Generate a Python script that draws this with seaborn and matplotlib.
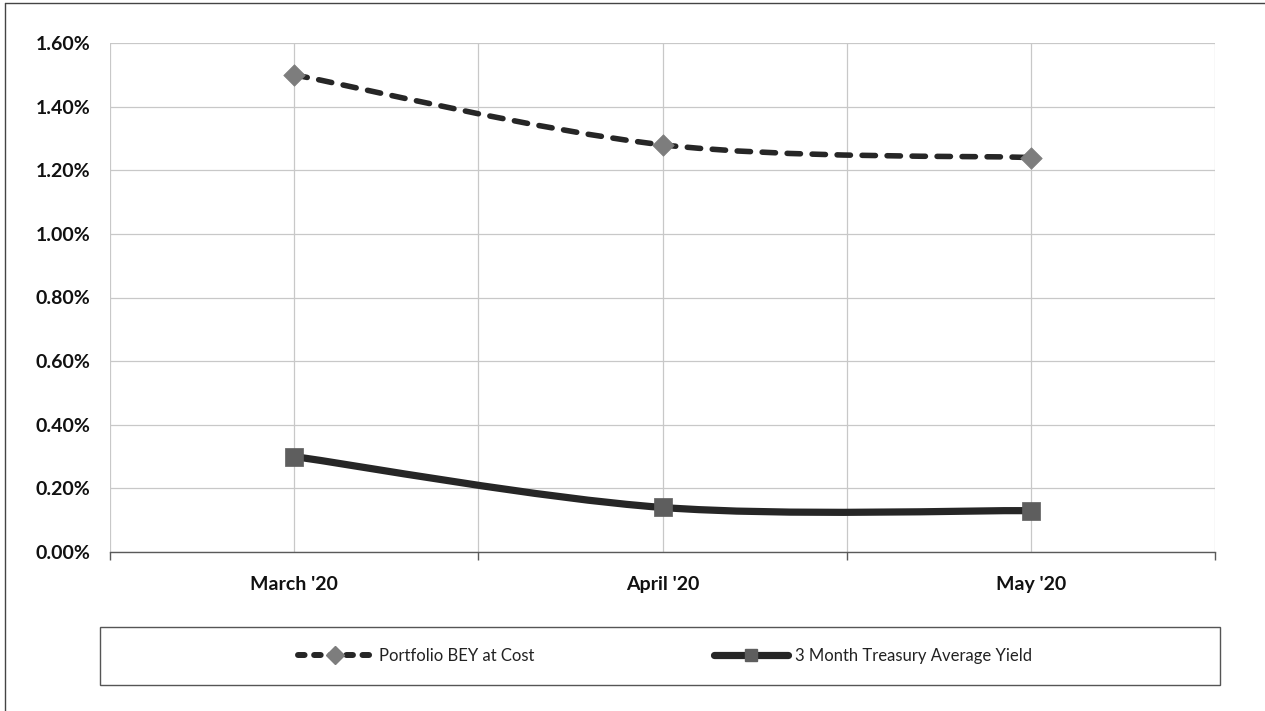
import numpy as np
import pandas as pd
import seaborn as sns
import matplotlib
matplotlib.use("Agg")
import matplotlib.pyplot as plt
from matplotlib.path import Path
from matplotlib.patches import PathPatch, Rectangle
from matplotlib.lines import Line2D
from matplotlib.ticker import FixedLocator, FuncFormatter

# ---- data (percent) ----
months = ["March '20", "April '20", "May '20"]
portfolio_bey = [1.50, 1.28, 1.24]
treasury_3m = [0.30, 0.14, 0.13]
series_names = ["Portfolio BEY at Cost", "3 Month Treasury Average Yield"]
y_ticks = [0.0, 0.2, 0.4, 0.6, 0.8, 1.0, 1.2, 1.4, 1.6]

df = pd.DataFrame({
    "month": months * 2,
    "pos": list(range(len(months))) * 2,
    "value": portfolio_bey + treasury_3m,
    "series": [series_names[0]] * 3 + [series_names[1]] * 3,
})

sns.set_theme(style="white")
plt.rcParams["font.family"] = ["Lato", "DejaVu Sans"]

W, H = 1265, 711
fig = plt.figure(figsize=(W / 100, H / 100), dpi=100)
ax = fig.add_axes([110 / W, 1 - 552 / H, (1215 - 110) / W, (552 - 43) / H])


def smooth_path(xs, ys):
    """Catmull-Rom style cubic Bezier path through the points (smoothed line)."""
    pts = np.column_stack([xs, ys]).astype(float)
    ext = np.vstack([pts[0], pts, pts[-1]])
    verts = [tuple(pts[0])]
    codes = [Path.MOVETO]
    for i in range(1, len(ext) - 2):
        p0, p1, p2, p3 = ext[i - 1], ext[i], ext[i + 1], ext[i + 2]
        c1 = p1 + (p2 - p0) / 6.0
        c2 = p2 - (p3 - p1) / 6.0
        verts += [tuple(c1), tuple(c2), tuple(p2)]
        codes += [Path.CURVE4] * 3
    return Path(verts, codes)


line_dark = "#262626"
marker_grey_d = "#7d7d7d"
marker_grey_s = "#5e5e5e"

pos = list(range(len(months)))

# dashed smoothed portfolio line
p1 = PathPatch(smooth_path(pos, portfolio_bey), fill=False, edgecolor=line_dark,
               linewidth=4.0, linestyle=(0, (2.4, 2.1)), capstyle="round", zorder=3)
ax.add_patch(p1)
# solid smoothed treasury line
p2 = PathPatch(smooth_path(pos, treasury_3m), fill=False, edgecolor=line_dark,
               linewidth=5.2, linestyle="-", capstyle="butt", joinstyle="round", zorder=3)
ax.add_patch(p2)

# markers
sns.scatterplot(data=df[df.series == series_names[0]], x="pos", y="value", marker="D",
                s=120, color=marker_grey_d, edgecolor=marker_grey_d, linewidth=0.5,
                ax=ax, zorder=4, legend=False)
sns.scatterplot(data=df[df.series == series_names[1]], x="pos", y="value", marker="s",
                s=150, color=marker_grey_s, edgecolor=marker_grey_s, linewidth=0.5,
                ax=ax, zorder=4, legend=False)

# axes
ax.set_xlim(-0.5, len(months) - 0.5)
ax.set_ylim(0, 1.6)
ax.set_xlabel("")
ax.set_ylabel("")
ax.yaxis.set_major_locator(FixedLocator(y_ticks))
ax.yaxis.set_major_formatter(FuncFormatter(lambda v, _: f"{v:.2f}%"))
ax.xaxis.set_major_locator(FixedLocator(pos))
ax.set_xticklabels(months)
ax.xaxis.set_minor_locator(FixedLocator([p - 0.5 for p in pos] + [pos[-1] + 0.5]))

grid_c = "#c8c8c8"
ax.grid(True, which="major", axis="both", color=grid_c, linewidth=0.9, linestyle="-")
ax.grid(True, which="minor", axis="x", color=grid_c, linewidth=0.9, linestyle="-")
ax.set_axisbelow(True)

for s in ["top", "right", "left"]:
    ax.spines[s].set_visible(False)
ax.spines["bottom"].set_color("#5a5a5a")
ax.spines["bottom"].set_linewidth(1.0)

ax.tick_params(axis="y", which="major", length=0, pad=14, labelsize=14,
               labelcolor="#111111")
ax.tick_params(axis="x", which="major", length=0, pad=17, labelsize=14,
               labelcolor="#111111")
ax.tick_params(axis="x", which="minor", length=6, width=1.0, color="#5a5a5a",
               direction="out", bottom=True)
for lab in ax.get_yticklabels() + ax.get_xticklabels():
    lab.set_fontweight("bold")

# legend
handles = [
    Line2D([], [], color=line_dark, linewidth=4.3, linestyle=(0, (1.1, 1.6)),
           dash_capstyle="round", marker="D", markersize=9,
           markerfacecolor=marker_grey_d, markeredgecolor=marker_grey_d),
    Line2D([], [], color=line_dark, linewidth=5.2, linestyle="-",
           marker="s", markersize=9,
           markerfacecolor=marker_grey_s, markeredgecolor=marker_grey_s),
]
fig.legend(handles, series_names, loc="center", ncol=2,
           bbox_to_anchor=(665 / W, 1 - 656 / H), frameon=False,
           fontsize=12, handlelength=4.4, handletextpad=0.45,
           columnspacing=10.8, labelcolor="#222222")

# legend box
fig.patches.append(Rectangle((100 / W, 1 - 685 / H), (1220 - 100) / W, (685 - 627) / H,
                             transform=fig.transFigure, fill=False,
                             edgecolor="#555555", linewidth=1.0))
# outer chart border
fig.lines.append(Line2D([5 / W, 5 / W], [0, 1 - 3 / H], transform=fig.transFigure,
                        color="#444444", linewidth=1.0))
fig.lines.append(Line2D([5 / W, 1], [1 - 3 / H, 1 - 3 / H], transform=fig.transFigure,
                        color="#444444", linewidth=1.0))

fig.savefig("out.png", dpi=100, facecolor="white")
